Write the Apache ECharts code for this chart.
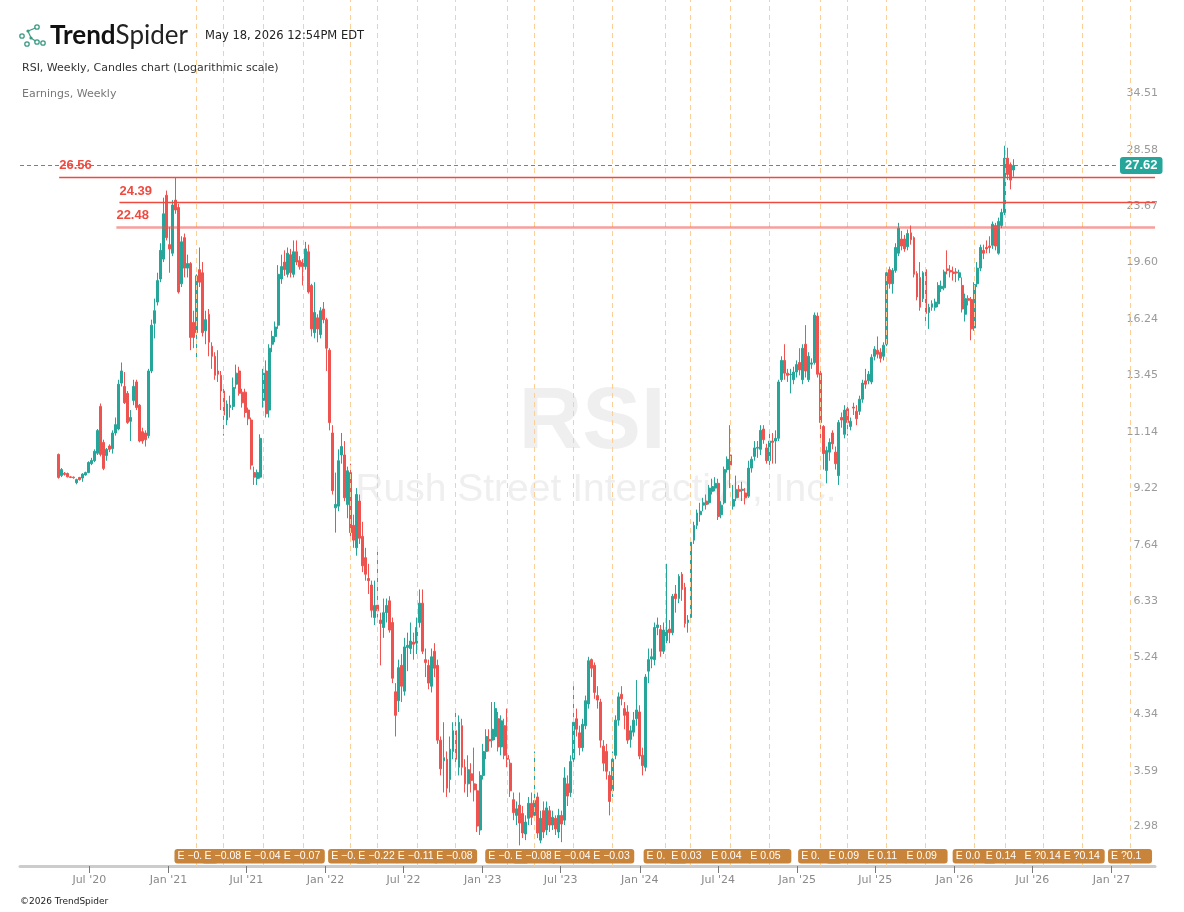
<!DOCTYPE html>
<html>
<head>
<meta charset="utf-8">
<title>RSI, Weekly</title>
<script src="https://cdn.jsdelivr.net/npm/echarts@6/dist/echarts.min.js"></script>
<style>
  html, body { margin: 0; padding: 0; background: #fff; }
  #chart { width: 1184px; height: 912px; }
</style>
</head>
<body>
<div id="chart"></div>
<script>
// weekly candles, first bar week of 2020-04-20
const firstWeek = Date.UTC(2020, 3, 20);
const WEEK = 7 * 24 * 3600 * 1000;

// [open, close, low, high]
const candles = [
  [10.52, 9.74, 9.70, 10.55], [9.80, 10.00, 9.75, 10.05], [9.88, 9.84, 9.80, 9.92], [9.87, 9.76, 9.74, 9.90],
  [9.76, 9.74, 9.72, 9.78], [9.75, 9.73, 9.70, 9.77], [9.57, 9.67, 9.52, 9.70], [9.74, 9.67, 9.64, 9.76],
  [9.72, 9.85, 9.60, 9.88], [9.82, 9.90, 9.80, 9.93], [9.90, 10.24, 9.88, 10.28], [10.20, 10.31, 10.15, 10.40],
  [10.30, 10.63, 10.25, 10.70], [10.56, 11.39, 10.50, 11.45], [12.35, 10.52, 10.45, 12.47], [10.95, 10.04, 9.98, 11.05],
  [10.48, 10.70, 10.30, 10.75], [10.82, 10.70, 10.60, 10.88], [10.72, 11.30, 10.55, 11.40], [11.30, 11.62, 11.20, 11.90],
  [11.45, 13.30, 11.40, 13.50], [13.35, 13.90, 13.20, 14.30], [13.20, 12.50, 12.45, 13.85], [12.90, 11.70, 11.65, 13.00],
  [11.75, 11.90, 11.00, 12.20], [12.60, 13.20, 12.40, 13.50], [13.40, 12.30, 12.20, 13.50], [12.40, 11.00, 10.95, 12.45],
  [11.35, 11.00, 10.90, 11.50], [11.30, 11.05, 10.80, 11.40], [11.20, 13.90, 11.10, 14.00], [13.90, 16.20, 13.80, 16.50],
  [16.30, 17.00, 15.50, 17.70], [17.50, 18.80, 17.30, 19.30], [18.90, 20.80, 18.70, 21.30], [20.20, 23.50, 20.00, 24.80],
  [25.00, 21.70, 21.50, 25.40], [21.20, 20.90, 19.30, 22.50], [20.60, 24.20, 20.40, 24.60], [24.60, 23.80, 23.50, 26.56],
  [24.00, 18.10, 18.00, 24.30], [18.60, 21.40, 18.40, 21.80], [21.70, 19.60, 19.00, 22.00], [19.60, 19.90, 19.00, 20.50],
  [19.90, 15.55, 14.90, 20.00], [16.35, 15.55, 15.00, 17.00], [15.80, 19.10, 14.50, 19.20], [19.50, 18.70, 18.40, 21.00],
  [19.30, 15.80, 15.60, 20.00], [15.90, 16.50, 15.20, 17.00], [16.80, 15.30, 14.60, 17.10], [15.10, 14.60, 14.00, 15.30],
  [14.60, 13.70, 13.50, 14.80], [13.90, 13.75, 13.40, 14.90], [13.70, 13.00, 12.20, 13.90], [13.00, 12.00, 11.20, 13.10],
  [11.80, 12.45, 11.60, 12.60], [12.30, 12.40, 11.90, 12.80], [12.35, 13.15, 12.20, 13.60], [13.30, 13.80, 13.10, 14.20],
  [13.90, 12.90, 12.80, 14.10], [12.95, 12.50, 12.30, 13.10], [12.95, 12.10, 11.90, 13.10], [12.20, 11.85, 11.60, 12.30],
  [11.80, 10.15, 10.00, 11.90], [9.90, 9.75, 9.50, 10.10], [9.70, 9.90, 9.50, 10.00], [9.75, 11.10, 9.70, 11.25],
  [12.60, 13.80, 12.30, 14.00], [13.90, 12.05, 11.90, 14.40], [12.20, 15.00, 11.90, 15.20], [15.20, 15.60, 14.80, 15.90],
  [15.60, 16.10, 15.30, 16.40], [16.20, 19.20, 16.00, 19.80], [18.90, 19.70, 18.60, 20.50], [20.00, 19.50, 19.10, 20.80],
  [19.20, 20.60, 19.00, 21.00], [20.50, 19.30, 19.00, 20.90], [19.20, 20.70, 19.00, 21.50], [20.70, 20.00, 19.80, 21.50],
  [20.10, 19.70, 19.50, 20.40], [20.00, 19.70, 18.50, 20.20], [19.70, 20.90, 19.50, 21.40], [20.70, 18.10, 18.00, 21.20],
  [18.50, 16.00, 15.60, 18.60], [15.80, 16.90, 15.50, 18.70], [16.60, 16.00, 15.30, 16.80], [15.70, 17.00, 15.50, 17.20],
  [17.10, 16.50, 16.30, 17.50], [16.50, 15.00, 13.90, 16.60], [14.90, 11.70, 11.40, 15.00], [11.30, 9.32, 9.20, 11.60],
  [8.80, 8.90, 8.10, 9.90], [8.85, 10.30, 8.70, 10.70], [10.50, 10.80, 10.20, 11.30], [10.50, 9.10, 9.00, 11.00],
  [8.90, 9.96, 8.50, 10.10], [9.90, 8.10, 8.00, 10.20], [8.30, 7.90, 7.70, 8.60], [7.70, 9.20, 7.50, 9.40],
  [9.00, 7.95, 7.80, 9.20], [8.00, 7.25, 7.10, 8.40], [7.45, 7.05, 6.90, 7.70], [6.95, 6.90, 6.60, 7.30],
  [6.80, 6.25, 6.10, 6.90], [6.10, 6.35, 5.95, 6.90], [6.36, 6.24, 6.10, 7.60], [6.05, 5.98, 5.20, 6.20],
  [5.90, 6.20, 5.70, 6.50], [6.20, 6.35, 6.00, 6.50], [6.45, 5.85, 5.80, 6.55], [6.00, 4.98, 4.90, 6.10],
  [4.76, 4.40, 4.10, 4.90], [4.62, 5.16, 4.45, 5.30], [5.20, 4.85, 4.60, 5.40], [4.77, 5.53, 4.70, 5.70],
  [5.52, 5.56, 5.10, 5.80], [5.50, 5.64, 5.40, 6.00], [5.62, 5.58, 5.30, 5.80], [5.60, 5.90, 5.40, 6.10],
  [6.00, 6.40, 5.90, 6.70], [6.40, 5.45, 5.40, 6.70], [5.30, 5.25, 5.00, 5.50], [5.20, 4.90, 4.80, 5.30],
  [4.85, 5.35, 4.75, 5.50], [5.45, 5.15, 5.00, 5.60], [5.20, 4.05, 4.00, 5.30], [4.05, 3.68, 3.60, 4.10],
  [3.78, 3.82, 3.40, 4.30], [3.80, 3.45, 3.35, 3.90], [3.55, 3.93, 3.40, 4.10], [3.90, 4.18, 3.80, 4.30],
  [4.18, 3.80, 3.70, 4.50], [3.70, 4.30, 3.60, 4.40], [4.25, 3.70, 3.60, 4.35], [3.70, 3.50, 3.40, 3.80],
  [3.50, 3.67, 3.35, 3.85], [3.62, 3.54, 3.40, 3.75], [3.50, 3.43, 3.30, 3.95], [3.42, 3.04, 2.98, 3.50],
  [3.00, 3.60, 2.95, 3.65], [3.60, 3.90, 3.55, 4.00], [3.90, 4.10, 3.80, 4.20], [4.06, 4.04, 3.90, 4.20],
  [4.05, 4.20, 3.95, 4.60], [4.10, 4.50, 4.05, 4.60], [4.35, 3.96, 3.90, 4.45], [3.96, 4.32, 3.85, 4.40],
  [4.25, 3.85, 3.80, 4.35], [3.85, 3.80, 3.70, 4.50], [3.75, 3.42, 3.35, 3.80], [3.32, 3.18, 3.10, 3.40],
  [3.15, 3.22, 3.05, 3.30], [3.26, 3.07, 2.85, 3.40], [3.17, 2.97, 2.92, 3.25], [2.96, 3.08, 2.90, 3.15],
  [3.12, 3.28, 3.05, 3.35], [3.28, 3.13, 3.05, 3.40], [3.15, 3.31, 3.10, 3.90], [3.35, 2.97, 2.92, 3.40],
  [2.90, 3.12, 2.87, 3.20], [3.20, 2.98, 2.92, 3.30], [3.00, 3.23, 2.95, 3.30], [3.20, 3.05, 2.98, 3.25],
  [3.05, 3.13, 3.00, 3.20], [3.12, 3.01, 2.95, 3.15], [2.98, 3.15, 2.92, 3.22], [3.15, 3.06, 2.88, 3.20],
  [3.10, 3.57, 3.05, 3.70], [3.50, 3.36, 3.25, 3.60], [3.40, 3.77, 3.35, 3.85], [3.80, 4.30, 3.75, 4.85],
  [4.35, 4.20, 4.10, 4.50], [4.15, 3.95, 3.85, 4.25], [3.95, 4.27, 3.90, 4.35], [4.25, 4.62, 4.20, 4.70],
  [4.57, 5.28, 4.50, 5.35], [5.30, 5.15, 5.00, 5.32], [5.20, 4.75, 4.65, 5.25], [4.70, 4.63, 4.50, 4.85],
  [4.60, 4.05, 3.95, 4.65], [3.97, 3.75, 3.65, 4.05], [3.90, 3.65, 3.55, 4.00], [3.60, 3.30, 3.15, 3.65],
  [3.42, 3.80, 3.35, 3.90], [3.85, 4.33, 3.80, 4.40], [4.33, 4.68, 4.25, 4.75], [4.72, 4.65, 4.55, 4.85],
  [4.50, 4.40, 4.20, 4.60], [4.45, 4.05, 4.00, 4.55], [4.06, 4.18, 3.95, 4.25], [4.16, 4.33, 4.10, 4.45],
  [4.35, 4.48, 4.25, 4.95], [4.45, 3.84, 3.80, 4.55], [3.85, 3.72, 3.60, 3.95], [3.70, 5.00, 3.65, 5.05],
  [5.10, 5.30, 4.90, 5.50], [5.31, 5.35, 5.15, 5.50], [5.30, 5.90, 5.20, 6.00], [5.90, 5.95, 5.75, 6.10],
  [5.86, 5.45, 5.35, 5.95], [5.45, 5.85, 5.40, 6.00], [5.65, 5.85, 5.60, 7.30], [5.87, 5.80, 5.60, 6.05],
  [5.80, 6.55, 5.75, 6.60], [6.60, 6.50, 6.20, 6.80], [6.50, 7.00, 6.40, 7.05], [7.05, 6.70, 6.45, 7.10],
  [6.75, 5.98, 5.90, 6.85], [6.00, 6.05, 5.80, 6.15], [6.10, 7.85, 6.05, 7.95], [7.90, 8.30, 7.80, 8.40],
  [8.30, 8.65, 8.20, 8.75], [8.60, 8.70, 8.40, 8.95], [8.88, 8.95, 8.70, 9.10], [9.00, 8.90, 8.75, 9.20],
  [8.95, 9.40, 8.90, 9.50], [9.30, 9.45, 9.20, 9.70], [9.40, 9.55, 9.30, 9.75], [9.55, 8.55, 8.45, 9.70],
  [8.60, 8.88, 8.50, 9.00], [8.95, 10.00, 8.90, 10.10], [10.00, 10.35, 9.90, 10.45], [10.50, 10.15, 9.40, 11.60],
  [8.85, 9.05, 8.75, 9.50], [9.10, 9.35, 9.00, 9.80], [9.35, 9.30, 9.10, 9.50], [9.33, 9.36, 9.00, 9.60],
  [9.25, 9.10, 8.90, 9.40], [9.15, 10.05, 9.10, 10.30], [10.05, 10.35, 9.90, 10.45], [10.45, 10.75, 10.30, 11.00],
  [10.74, 10.77, 10.40, 11.00], [10.70, 11.40, 10.50, 11.60], [11.45, 11.05, 10.90, 11.60], [10.75, 10.30, 10.20, 10.90],
  [10.30, 11.00, 10.00, 11.40], [11.00, 10.95, 10.20, 11.30], [11.00, 11.10, 10.20, 11.40], [11.10, 13.40, 11.00, 13.50],
  [13.50, 14.40, 13.40, 14.60], [14.40, 13.80, 13.50, 15.20], [13.80, 13.70, 13.40, 14.00], [13.73, 13.76, 12.90, 14.00],
  [13.50, 13.85, 13.30, 14.10], [13.85, 14.20, 13.60, 14.40], [14.30, 13.95, 13.70, 15.00], [13.50, 15.00, 13.30, 15.20],
  [15.20, 13.90, 13.60, 16.20], [13.50, 14.60, 13.40, 14.80], [14.22, 14.28, 14.00, 14.50], [14.30, 16.75, 14.20, 16.90],
  [16.70, 13.75, 13.60, 16.90], [13.80, 11.70, 11.10, 13.90], [11.55, 10.55, 10.00, 11.60], [9.97, 10.66, 9.55, 10.80],
  [10.60, 10.95, 10.30, 11.10], [11.30, 10.90, 10.70, 11.40], [10.60, 10.20, 10.00, 10.80], [9.80, 11.70, 9.50, 11.80],
  [11.90, 11.80, 11.50, 12.10], [11.25, 12.20, 11.10, 12.40], [12.25, 11.70, 11.20, 12.40], [11.55, 11.75, 11.40, 11.90],
  [12.32, 12.28, 12.00, 12.50], [12.15, 11.85, 11.60, 12.40], [12.15, 12.65, 12.00, 12.80], [12.65, 13.35, 12.50, 13.50],
  [13.45, 13.30, 13.10, 14.00], [13.45, 13.75, 13.30, 13.90], [13.40, 14.55, 13.30, 14.70], [14.60, 14.95, 14.40, 15.10],
  [14.90, 14.70, 14.50, 15.60], [14.80, 14.50, 14.30, 15.00], [14.60, 15.15, 14.40, 15.30], [15.20, 19.30, 15.10, 19.50],
  [19.50, 18.60, 18.30, 19.70], [18.60, 19.45, 18.00, 19.60], [19.45, 21.00, 19.30, 21.30], [20.60, 22.40, 20.40, 22.80],
  [21.60, 21.10, 20.80, 22.20], [21.60, 20.90, 20.70, 21.90], [21.05, 22.00, 20.80, 22.30], [22.05, 21.55, 21.20, 22.60],
  [21.70, 19.20, 19.00, 21.80], [19.25, 17.80, 17.60, 19.40], [19.00, 17.20, 17.00, 20.00], [17.70, 19.30, 17.50, 19.40],
  [19.50, 16.85, 16.30, 19.60], [16.90, 17.20, 16.00, 17.40], [17.20, 17.40, 17.00, 17.60], [17.20, 17.50, 17.00, 17.70],
  [17.40, 18.50, 17.20, 18.70], [18.30, 18.45, 18.10, 18.80], [18.35, 19.35, 18.20, 19.50], [19.55, 19.45, 19.20, 20.80],
  [19.45, 19.35, 19.00, 19.80], [19.35, 19.25, 18.80, 19.70], [19.35, 19.28, 18.70, 19.60], [19.00, 19.30, 18.80, 19.50],
  [18.50, 17.10, 16.90, 19.00], [16.80, 17.70, 16.40, 18.00], [17.70, 17.60, 17.30, 17.90], [17.65, 16.00, 15.40, 17.80],
  [16.05, 18.55, 15.90, 18.70], [18.60, 19.60, 18.40, 20.00], [19.60, 21.00, 19.40, 21.20], [20.80, 20.60, 20.20, 21.20],
  [21.00, 20.90, 20.60, 21.50], [21.10, 21.00, 20.60, 21.80], [21.15, 22.70, 20.90, 22.90], [22.60, 21.10, 20.80, 22.80],
  [20.60, 22.90, 20.50, 23.20], [22.60, 23.60, 22.40, 23.90], [23.60, 28.30, 23.40, 29.50], [28.30, 26.80, 26.30, 29.30],
  [27.70, 26.30, 25.50, 27.90], [27.20, 27.62, 26.60, 28.20]
];

const earningsDates = [
  '2021-03-07', '2021-05-09', '2021-08-09', '2021-11-09',
  '2022-02-27', '2022-05-01', '2022-08-01', '2022-10-29',
  '2023-02-27', '2023-05-01', '2023-07-30', '2023-10-29',
  '2024-03-01', '2024-04-27', '2024-07-29', '2024-10-28',
  '2025-02-23', '2025-04-28', '2025-07-27', '2025-10-26',
  '2026-02-17', '2026-04-28', '2026-07-27', '2026-10-26',
  '2027-02-13'
];
const earningsLabels = [
  'E −0.', 'E −0.08', 'E −0.04', 'E −0.07',
  'E −0.', 'E −0.22', 'E −0.11', 'E −0.08',
  'E −0.', 'E −0.08', 'E −0.04', 'E −0.03',
  'E 0.', 'E 0.03', 'E 0.04', 'E 0.05',
  'E 0.', 'E 0.09', 'E 0.11', 'E 0.09',
  'E 0.0', 'E 0.14', 'E ?0.14', 'E ?0.14',
  'E ?0.1'
];

const priceTicks = [2.98, 3.59, 4.34, 5.24, 6.33, 7.64, 9.22, 11.14, 13.45, 16.24, 19.60, 23.67, 28.58, 34.51];
const dateTicks = ['2020-07-01', '2021-01-01', '2021-07-01', '2022-01-01', '2022-07-01', '2023-01-01', '2023-07-01',
  '2024-01-01', '2024-07-01', '2025-01-01', '2025-07-01', '2026-01-01', '2026-07-01', '2027-01-01'];

// drawn horizontal levels
const levelValues = [26.56, 24.39, 22.48];
const levelStarts = ['2020-04-22', '2020-09-09', '2020-09-02'];
const lastPrice = 27.62;

const axisMin = '2020-01-22';
const axisMax = '2027-04-12';

const RED = '#ef5350';
const GREEN = '#26a69a';
const months = ['Jan', 'Feb', 'Mar', 'Apr', 'May', 'Jun', 'Jul', 'Aug', 'Sep', 'Oct', 'Nov', 'Dec'];
const ts = s => Date.parse(s + 'T00:00:00Z');

const chart = echarts.init(document.getElementById('chart'));

const candleData = candles.map((c, i) => [firstWeek + i * WEEK, c[0], c[1], c[2], c[3]]);

const markLines = earningsDates.map(d => ({
  xAxis: ts(d),
  label: { show: false },
  lineStyle: { type: [5, 4], color: '#fbcf99', width: 1 }
}));
levelValues.forEach((v, i) => {
  markLines.push([
    {
      coord: [ts(levelStarts[i]), v],
      label: {
        show: true, position: 'insideStartTop', distance: [0, 5], formatter: v.toFixed(2),
        color: '#ee4a40', fontWeight: 'bold', fontSize: 13, fontFamily: 'Liberation Sans'
      },
      lineStyle: i === 2
        ? { type: 'solid', color: 'rgba(239, 80, 72, 0.55)', width: 2.5 }
        : { type: 'solid', color: '#ee4a40', width: 1.3 }
    },
    { coord: [ts(axisMax), v] }
  ]);
});
markLines.push([
  {
    coord: [ts(axisMin), lastPrice],
    label: {
      show: true, position: 'end', distance: 2, formatter: lastPrice.toFixed(2),
      color: '#fff', backgroundColor: GREEN, borderRadius: 3, padding: [2, 5, 2, 5],
      fontWeight: 'bold', fontSize: 13, lineHeight: 13, fontFamily: 'Liberation Sans'
    },
    lineStyle: { type: [4, 3], color: '#808080', width: 1 }
  },
  { coord: [ts('2027-01-16'), lastPrice] }
]);

chart.setOption({
  animation: false,
  backgroundColor: '#fff',
  grid: { left: 20, right: 29, top: 0, bottom: 46 },
  xAxis: {
    type: 'value',
    min: ts(axisMin),
    max: ts(axisMax),
    scale: true,
    splitLine: { show: false },
    axisLine: { lineStyle: { color: '#cccccc', width: 3 } },
    axisTick: { show: true, length: 7, customValues: dateTicks.map(ts), lineStyle: { color: '#777' } },
    axisLabel: {
      customValues: dateTicks.map(ts),
      margin: 9,
      color: '#8a8a8a',
      fontSize: 11,
      fontFamily: 'DejaVu Sans',
      formatter: function (val) {
        const d = new Date(val);
        return months[d.getUTCMonth()] + " '" + String(d.getUTCFullYear()).slice(2);
      }
    }
  },
  yAxis: {
    type: 'log',
    position: 'right',
    min: 2.66,
    max: 48.0,
    axisLine: { show: false },
    axisTick: { show: false },
    splitLine: { show: false },
    axisLabel: {
      customValues: priceTicks,
      align: 'right',
      verticalAlign: 'bottom',
      margin: 3,
      color: '#9a9a9a',
      fontSize: 11,
      fontFamily: 'DejaVu Sans',
      formatter: v => Number(v).toFixed(2)
    }
  },
  graphic: [
    { type: 'text', z: 0, x: 592, y: 424, style: { text: 'RSI', font: 'bold 88px "Liberation Sans", Arial', fill: '#efefef', align: 'center', verticalAlign: 'middle' } },
    { type: 'text', z: 0, x: 596, y: 490, style: { text: 'Rush Street Interactive, Inc.', font: '39px "Liberation Sans", Arial', fill: '#efefef', align: 'center', verticalAlign: 'middle' } },
    // logo mark
    { type: 'circle', z: 100, shape: { cx: 22, cy: 36, r: 2.2 }, style: { fill: 'none', stroke: '#3b9a85', lineWidth: 1.3 } },
    { type: 'circle', z: 100, shape: { cx: 28, cy: 31, r: 1.6 }, style: { fill: '#3b9a85' } },
    { type: 'circle', z: 100, shape: { cx: 37, cy: 27, r: 2.2 }, style: { fill: 'none', stroke: '#3b9a85', lineWidth: 1.3 } },
    { type: 'circle', z: 100, shape: { cx: 31, cy: 38, r: 1.6 }, style: { fill: '#3b9a85' } },
    { type: 'circle', z: 100, shape: { cx: 27, cy: 44, r: 2.2 }, style: { fill: 'none', stroke: '#3b9a85', lineWidth: 1.3 } },
    { type: 'circle', z: 100, shape: { cx: 37, cy: 42, r: 2.2 }, style: { fill: 'none', stroke: '#3b9a85', lineWidth: 1.3 } },
    { type: 'circle', z: 100, shape: { cx: 43, cy: 43, r: 2.2 }, style: { fill: 'none', stroke: '#3b9a85', lineWidth: 1.3 } },
    { type: 'line', z: 100, shape: { x1: 28, y1: 31, x2: 35.5, y2: 28 }, style: { stroke: '#3b9a85', lineWidth: 1.2 } },
    { type: 'line', z: 100, shape: { x1: 28, y1: 31, x2: 31, y2: 38 }, style: { stroke: '#3b9a85', lineWidth: 1.2 } },
    { type: 'line', z: 100, shape: { x1: 31, y1: 38, x2: 35.5, y2: 41 }, style: { stroke: '#3b9a85', lineWidth: 1.2 } },
    {
      type: 'text', z: 100, x: 50, y: 36,
      style: {
        text: '{b|Trend}{l|Spider}', verticalAlign: 'middle',
        rich: {
          b: { fontFamily: 'Lato', fontWeight: 'bold', fontSize: 26, fill: '#111' },
          l: { fontFamily: 'Lato', fontWeight: 'normal', fontSize: 26, fill: '#222' }
        }
      }
    },
    { type: 'text', z: 100, x: 205, y: 36, style: { text: 'May 18, 2026 12:54PM EDT', font: '11.5px "DejaVu Sans"', fill: '#222', verticalAlign: 'middle' } },
    { type: 'text', z: 100, x: 22, y: 68, style: { text: 'RSI, Weekly, Candles chart (Logarithmic scale)', font: '11px "DejaVu Sans"', fill: '#333', verticalAlign: 'middle' } },
    { type: 'text', z: 100, x: 22, y: 94, style: { text: 'Earnings, Weekly', font: '11px "DejaVu Sans"', fill: '#777', verticalAlign: 'middle' } },
    { type: 'text', z: 100, x: 20, y: 902, style: { text: '©2026 TrendSpider', font: '9px "DejaVu Sans"', fill: '#222', verticalAlign: 'middle' } }
  ],
  series: [
    {
      type: 'candlestick',
      data: candleData,
      barWidth: 2.4,
      clip: false,
      itemStyle: { color: GREEN, color0: RED, borderColor: GREEN, borderColor0: RED, borderWidth: 1 },
      emphasis: { disabled: true },
      markLine: {
        silent: true,
        symbol: ['none', 'none'],
        animation: false,
        emphasis: { disabled: true },
        data: markLines
      }
    },
    {
      type: 'custom',
      z: 5,
      clip: true,
      silent: true,
      data: earningsDates.map(d => [ts(d)]),
      encode: { x: 0 },
      renderItem: function (params, api) {
        const x = api.coord([api.value(0), lastPrice])[0];
        const cs = params.coordSys;
        const bottom = cs.y + cs.height;
        return {
          type: 'group',
          children: [
            { type: 'rect', shape: { x: x - 22, y: bottom - 17, width: 44, height: 14.5, r: 3 }, style: { fill: '#c8843a' } },
            {
              type: 'text',
              style: {
                x: x - 19, y: bottom - 9.5, text: earningsLabels[params.dataIndex],
                fill: '#fff', font: '10.5px "Liberation Sans", Arial', align: 'left', verticalAlign: 'middle'
              }
            }
          ]
        };
      }
    }
  ]
});
</script>
</body>
</html>
